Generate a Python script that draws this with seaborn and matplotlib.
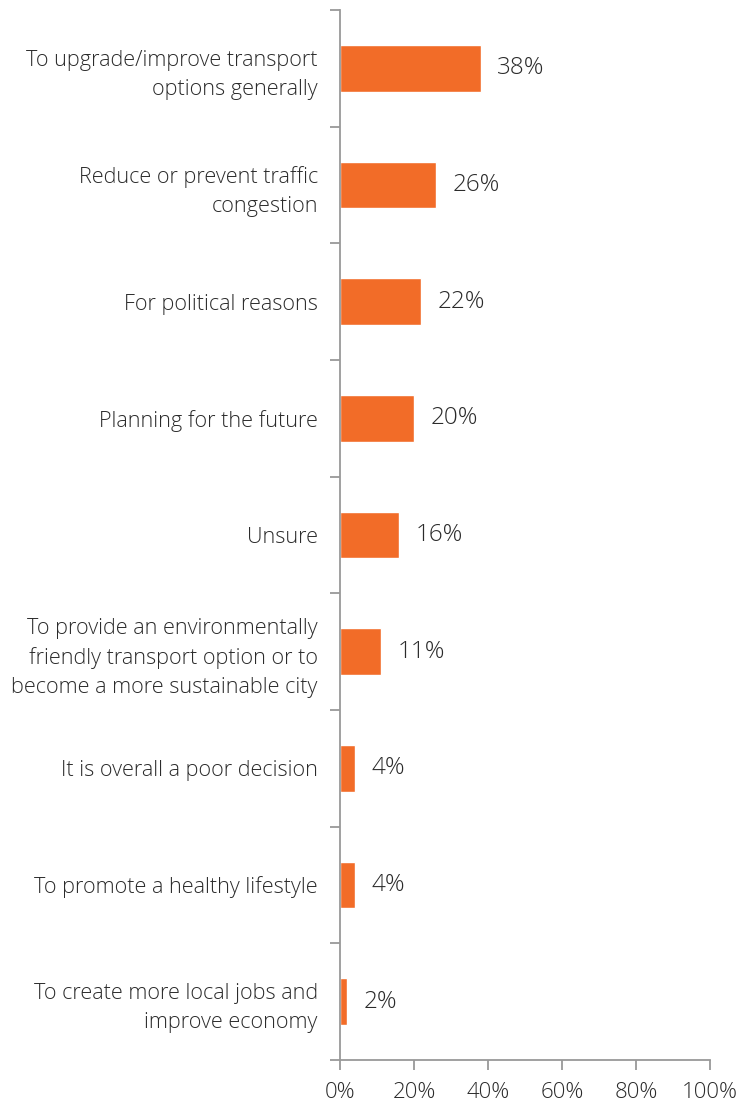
import matplotlib
matplotlib.use("Agg")
import matplotlib.pyplot as plt
import seaborn as sns
import pandas as pd
import numpy as np

categories = [
    "To upgrade/improve transport\noptions generally",
    "Reduce or prevent traffic\ncongestion",
    "For political reasons",
    "Planning for the future",
    "Unsure",
    "To provide an environmentally\nfriendly transport option or to\nbecome a more sustainable city",
    "It is overall a poor decision",
    "To promote a healthy lifestyle",
    "To create more local jobs and\nimprove economy",
]
values = [38, 26, 22, 20, 16, 11, 4, 4, 2]
x_ticks = [0, 20, 40, 60, 80, 100]
x_tick_labels = ["0%", "20%", "40%", "60%", "80%", "100%"]

sns.set_theme(style="white")
plt.rcParams["font.family"] = ["Open Sans", "DejaVu Sans"]

df = pd.DataFrame({"reason": categories, "share": values})

fig = plt.figure(figsize=(7.42, 11.10), dpi=100)
ax = fig.add_axes([340 / 742, 50 / 1110, 370 / 742, 1050 / 1110])

sns.barplot(data=df, y="reason", x="share", orient="h", color="#F26C28",
            saturation=1, width=0.4, ax=ax)

ax.set_xlim(0, 100)
ax.set_ylim(len(categories) - 0.5, -0.5)
ax.set_xlabel("")
ax.set_ylabel("")

axis_col = "#999999"
text_col = "#2b2b2b"
weight = "light"
for side in ["top", "right"]:
    ax.spines[side].set_visible(False)
for side in ["left", "bottom"]:
    ax.spines[side].set_color(axis_col)
    ax.spines[side].set_linewidth(1.3)

ax.set_xticks(x_ticks)
ax.set_xticklabels(x_tick_labels, fontsize=16, color=text_col, fontweight=weight)
ax.tick_params(axis="x", direction="out", length=7, width=1.3, color=axis_col,
               pad=9, bottom=True)

# category labels on major ticks (no mark), boundary marks on minor ticks
ax.set_yticks(range(len(categories)))
ax.set_yticklabels(categories, fontsize=15.6, color=text_col, fontweight=weight,
                   linespacing=1.5)
ax.tick_params(axis="y", which="major", length=0, pad=16)
ax.set_yticks(np.arange(-0.5, len(categories), 1.0), minor=True)
ax.tick_params(axis="y", which="minor", direction="out", length=7, width=1.3,
               color=axis_col, left=True)

for i, v in enumerate(values):
    ax.annotate(f"{v}%", xy=(v, i), xytext=(12, 0), textcoords="offset points",
                va="center", ha="left", fontsize=17.5, color=text_col,
                fontweight=weight)

fig.savefig("out.png", dpi=100)
